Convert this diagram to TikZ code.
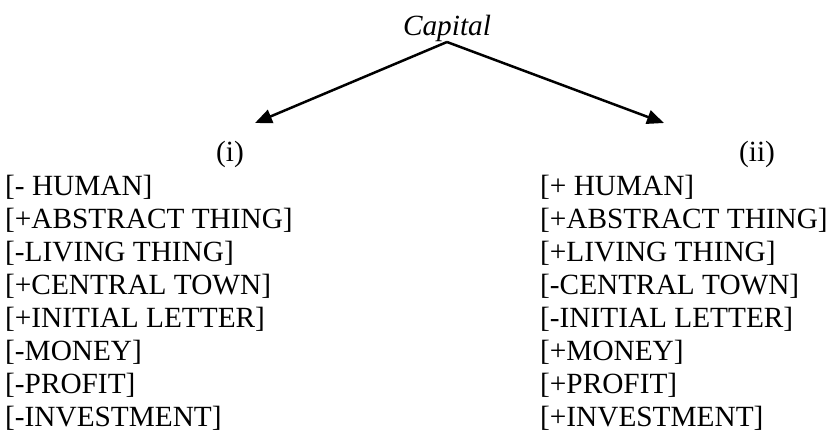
\documentclass[tikz,border=0pt]{standalone}
\usepackage{fontspec}
\setmainfont{Liberation Serif}
\usetikzlibrary{arrows.meta}
\begin{document}
\begin{tikzpicture}[x=1pt,y=-1pt,
  feat/.style={anchor=base west,inner sep=0pt,font=\fontsize{29.3}{33}\selectfont},
  lbl/.style={anchor=base,inner sep=0pt,font=\fontsize{29.3}{33}\selectfont},
  arr/.style={line width=2.5pt,-{Triangle[length=17pt,width=14pt]}}]
\useasboundingbox (0,0) rectangle (827,434);
\node[lbl] (cap) at (447,35) {\itshape Capital};
\coordinate (apex) at (447,42);
\coordinate (tl) at (255,123);
\coordinate (tr) at (664,123);
\draw[arr] (apex) -- (tl);
\draw[arr] (apex) -- (tr);
\node[lbl] (i) at (230,161) {(i)};
\node[lbl] (ii) at (757,161) {(ii)};
\foreach \t [count=\k] in {{[- HUMAN]},{[+ABSTRACT THING]},{[-LIVING THING]},{[+CENTRAL TOWN]},{[+INITIAL LETTER]},{[-MONEY]},{[-PROFIT]},{[-INVESTMENT]}}
  \node[feat] (l\k) at (5,{195+(\k-1)*33.1}) {\t};
\foreach \t [count=\k] in {{[+ HUMAN]},{[+ABSTRACT THING]},{[+LIVING THING]},{[-CENTRAL TOWN]},{[-INITIAL LETTER]},{[+MONEY]},{[+PROFIT]},{[+INVESTMENT]}}
  \node[feat] (r\k) at (540,{195+(\k-1)*33.1}) {\t};
\end{tikzpicture}
\end{document}
